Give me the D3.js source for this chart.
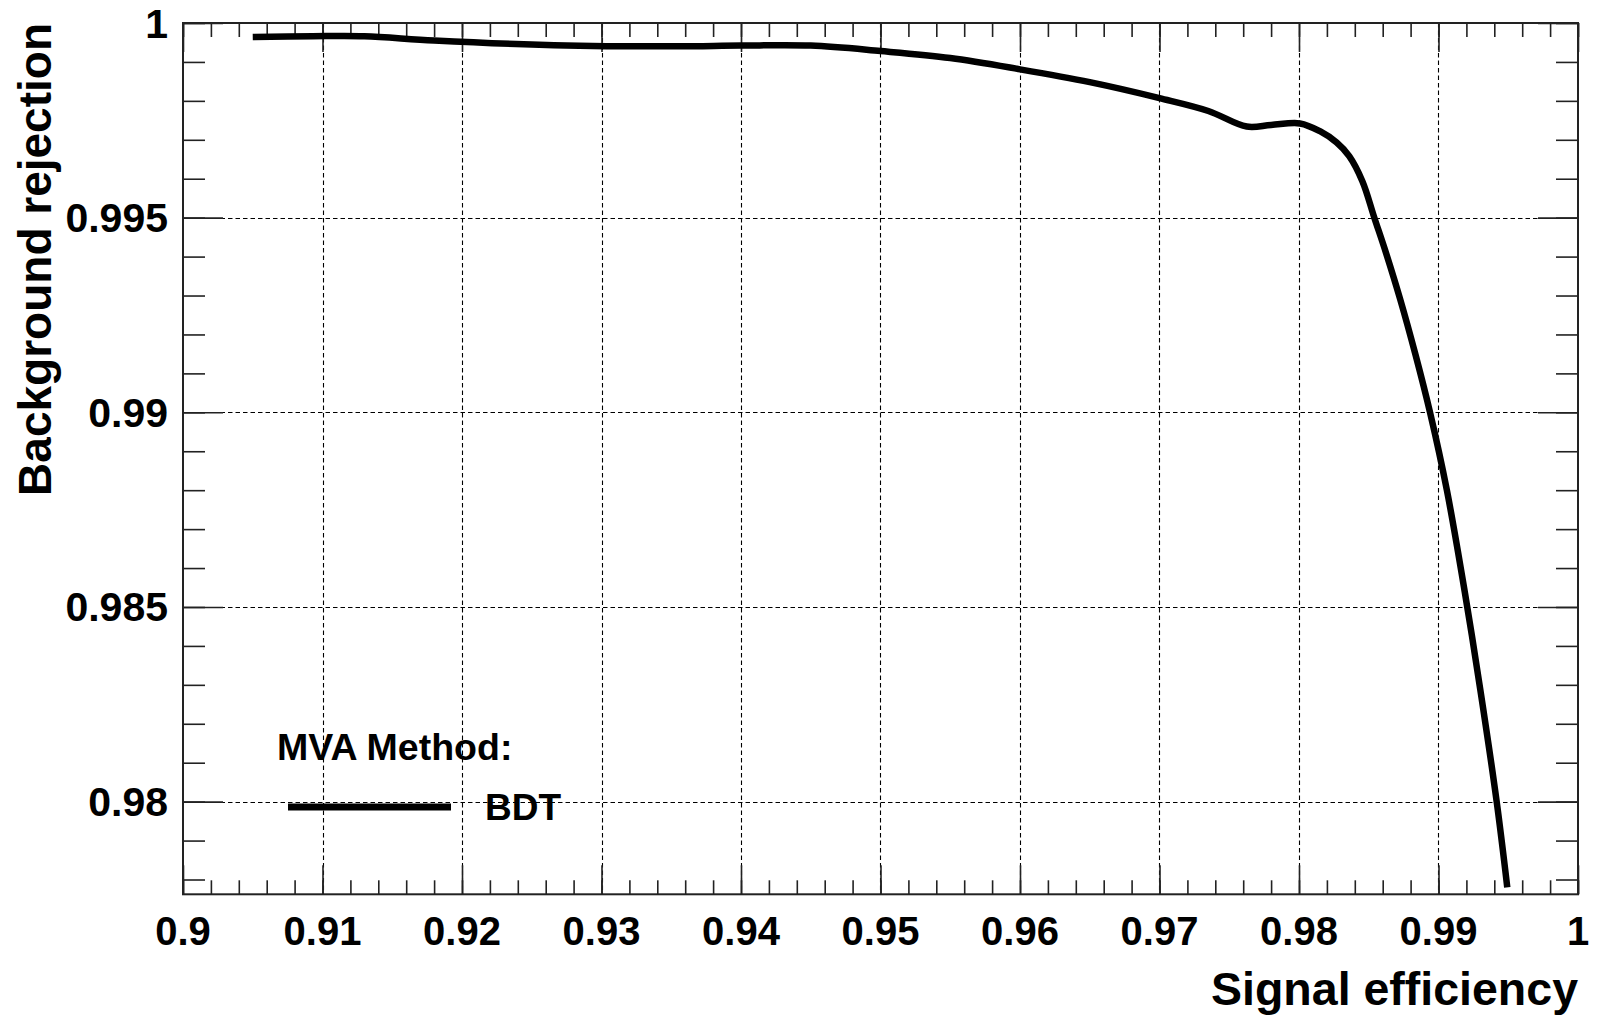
<!DOCTYPE html>
<html>
<head>
<meta charset="utf-8">
<script src="https://cdn.jsdelivr.net/npm/d3@7"></script>
<style>
  body { margin: 0; background: #fff; }
  svg { display: block; }
  text { font-family: "Liberation Sans", Arial, Helvetica, sans-serif; font-weight: bold; fill: #000; }
</style>
</head>
<body>
<script>
var width = 1600
var height = 1020

// ROC curve
var sigEff = [0.905, 0.9093, 0.913, 0.918, 0.9266, 0.9354, 0.94, 0.945, 0.95, 0.955, 0.96, 0.965,
              0.97, 0.9735, 0.97625, 0.978, 0.98007, 0.9815, 0.9827, 0.9836, 0.98455, 0.9854,
              0.98625, 0.98724, 0.98835, 0.98939, 0.9906, 0.9919, 0.9930, 0.99417, 0.99493]
var bkgRej = [0.99964, 0.99966, 0.99966, 0.99955, 0.99943, 0.99940, 0.99942, 0.99942, 0.99928, 0.99910, 0.99881, 0.99848,
              0.99807, 0.99774, 0.99734, 0.99738, 0.99742, 0.99722, 0.99693, 0.99658, 0.99593, 0.995,
              0.99408, 0.99292, 0.99148, 0.99, 0.9880, 0.98535, 0.98287, 0.98000, 0.97780]

var xTickLabels = [0.9, 0.91, 0.92, 0.93, 0.94, 0.95, 0.96, 0.97, 0.98, 0.99, 1]
var yTickLabels = [0.98, 0.985, 0.99, 0.995, 1]
var methodName = "BDT"

// frame edges (note: "top" is taken by window.top)
var padL = 183, padR = 1578, padT = 23, padB = 894.3

var x = d3.scaleLinear().domain([0.9, 1]).range([padL, padR])
var y = d3.scaleLinear().domain([0.97762, 1]).range([padB, padT])

// minor tick positions (0.002 on x, 0.001 on y)
var xMinor = d3.range(0, 51).map(function(i) { return +(0.9 + i * 0.002).toFixed(4) })
var yMinor = d3.range(0, 23).map(function(i) { return +(1 - i * 0.001).toFixed(4) })
    .filter(function(v) { return v >= 0.97762 })

var svg = d3.select("body")
    .append("svg")
        .attr("width", width)
        .attr("height", height)

// grid
var grid = svg.append("g")
    .attr("stroke", "#000")
    .attr("stroke-width", 1.1)
    .attr("stroke-dasharray", "4.5,3")

grid.selectAll("line.gx")
    .data(xTickLabels.slice(1, -1))
    .enter()
    .append("line")
        .attr("x1", function(d) { return Math.round(x(d)) + 0.5 })
        .attr("x2", function(d) { return Math.round(x(d)) + 0.5 })
        .attr("y1", padT)
        .attr("y2", padB)

grid.selectAll("line.gy")
    .data(yTickLabels.slice(0, -1))
    .enter()
    .append("line")
        .attr("y1", function(d) { return Math.round(y(d)) + 0.5 })
        .attr("y2", function(d) { return Math.round(y(d)) + 0.5 })
        .attr("x1", padL)
        .attr("x2", padR)

// tick marks on all four sides
function tickStyle(g) {
    g.select(".domain").remove()
    g.selectAll(".tick line").attr("stroke", "#222").attr("stroke-width", 1.6)
}

function noLabels(g) { g.selectAll("text").remove() }

svg.append("g").attr("transform", "translate(0," + padB + ")")
    .call(d3.axisBottom(x).tickValues(xMinor).tickSize(-14))
    .call(tickStyle).call(noLabels)
svg.append("g").attr("transform", "translate(0," + padB + ")")
    .call(d3.axisBottom(x).tickValues(xTickLabels).tickSize(-29))
    .call(tickStyle).call(noLabels)
svg.append("g").attr("transform", "translate(0," + padT + ")")
    .call(d3.axisTop(x).tickValues(xMinor).tickSize(-14))
    .call(tickStyle).call(noLabels)
svg.append("g").attr("transform", "translate(0," + padT + ")")
    .call(d3.axisTop(x).tickValues(xTickLabels).tickSize(-29))
    .call(tickStyle).call(noLabels)

svg.append("g").attr("transform", "translate(" + padL + ",0)")
    .call(d3.axisLeft(y).tickValues(yMinor).tickSize(-22))
    .call(tickStyle).call(noLabels)
svg.append("g").attr("transform", "translate(" + padL + ",0)")
    .call(d3.axisLeft(y).tickValues(yTickLabels).tickSize(-40))
    .call(tickStyle).call(noLabels)
svg.append("g").attr("transform", "translate(" + padR + ",0)")
    .call(d3.axisRight(y).tickValues(yMinor).tickSize(-22))
    .call(tickStyle).call(noLabels)
svg.append("g").attr("transform", "translate(" + padR + ",0)")
    .call(d3.axisRight(y).tickValues(yTickLabels).tickSize(-40))
    .call(tickStyle).call(noLabels)

// frame
svg.append("rect")
    .attr("x", padL)
    .attr("y", padT)
    .attr("width", padR - padL)
    .attr("height", padB - padT)
    .attr("fill", "none")
    .attr("stroke", "#222")
    .attr("stroke-width", 2)

// tick labels
svg.selectAll("text.xl")
    .data(xTickLabels)
    .enter()
    .append("text")
        .attr("x", function(d) { return x(d) })
        .attr("y", 945)
        .attr("text-anchor", "middle")
        .style("font-size", "40px")
        .text(function(d) { return d3.format("")(d) })

svg.selectAll("text.yl")
    .data(yTickLabels)
    .enter()
    .append("text")
        .attr("x", 168)
        .attr("y", function(d) { return y(d) + 14.5 })
        .attr("text-anchor", "end")
        .style("font-size", "41px")
        .text(function(d) { return d3.format("")(d) })

// axis titles
svg.append("text")
    .attr("x", padR)
    .attr("y", 1005)
    .attr("text-anchor", "end")
    .style("font-size", "46.5px")
    .text("Signal efficiency")

svg.append("text")
    .attr("transform", "translate(51," + padT + ") rotate(-90)")
    .attr("text-anchor", "end")
    .style("font-size", "46px")
    .text("Background rejection")

// ROC curve
var line = d3.line()
    .x(function(d) { return x(d[0]) })
    .y(function(d) { return y(d[1]) })
    .curve(d3.curveCatmullRom.alpha(0.5))

svg.append("path")
    .datum(d3.zip(sigEff, bkgRej))
    .attr("d", line)
    .attr("fill", "none")
    .attr("stroke", "#000")
    .attr("stroke-width", 6.5)
    .attr("stroke-linejoin", "round")

// legend
svg.append("text")
    .attr("x", 277)
    .attr("y", 760)
    .style("font-size", "37.5px")
    .text("MVA Method:")

svg.append("line")
    .attr("x1", 288)
    .attr("x2", 451)
    .attr("y1", 807)
    .attr("y2", 807)
    .attr("stroke", "#000")
    .attr("stroke-width", 7)

svg.append("text")
    .attr("x", 485)
    .attr("y", 820)
    .style("font-size", "37px")
    .text(methodName)
</script>
</body>
</html>
